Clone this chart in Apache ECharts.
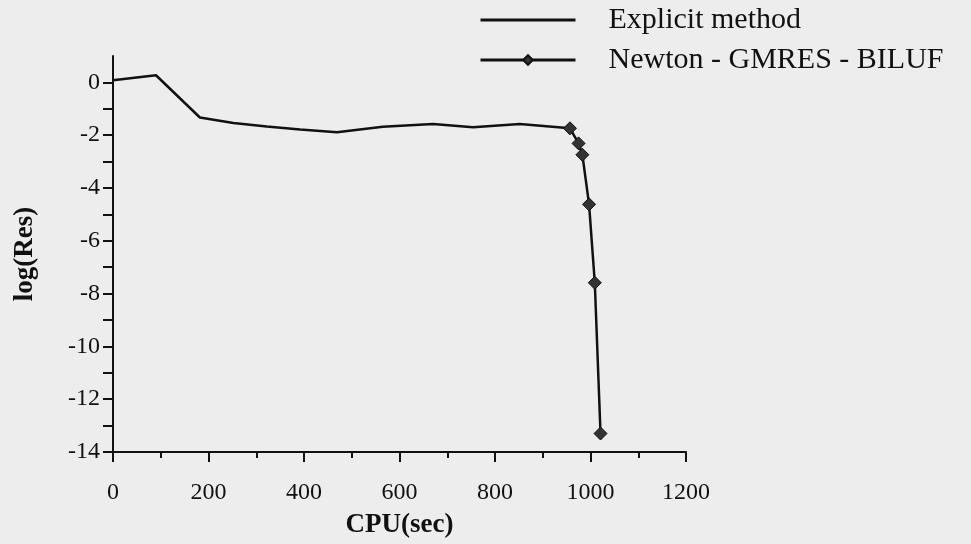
<!DOCTYPE html>
<html>
<head>
<meta charset="utf-8">
<script src="https://cdn.jsdelivr.net/npm/echarts@6/dist/echarts.min.js"></script>
<style>
  html, body { margin: 0; padding: 0; background: #ededed; }
  #chart { width: 971px; height: 544px; }
</style>
</head>
<body>
<div id="chart"></div>
<script>
var explicitX = [0, 90, 182, 252, 322, 392, 469, 565, 670, 754, 852, 957];
var explicitY = [0.08, 0.27, -1.33, -1.54, -1.67, -1.78, -1.89, -1.68, -1.58, -1.70, -1.58, -1.74];
var newtonX = [957, 975, 983, 997, 1009, 1021];
var newtonY = [-1.74, -2.31, -2.74, -4.62, -7.59, -13.3];
var yLabelTicks = [-14, -12, -10, -8, -6, -4, -2, 0];
var yTicks = [-14, -13, -12, -11, -10, -9, -8, -7, -6, -5, -4, -3, -2, -1, 0];

function zip(xs, ys) {
  return xs.map(function (x, i) { return [x, ys[i]] })
}

var font = '"Liberation Serif", "DejaVu Serif", serif'
var chart = echarts.init(document.getElementById('chart'))
chart.setOption({
  backgroundColor: '#ededed',
  animation: false,
  grid: {
    left: 113,
    top: 56,
    width: 573,
    height: 396,
    containLabel: false,
    outerBoundsMode: 'none'
  },
  legend: {
    orient: 'vertical',
    left: 474,
    top: 0,
    itemWidth: 95,
    itemHeight: 12,
    itemGap: 10,
    textStyle: {
      fontFamily: font,
      fontSize: 30,
      color: '#111',
      padding: [0, 0, 0, 28]
    },
    data: [
      { name: 'Explicit method', itemStyle: { opacity: 0 }, lineStyle: { width: 3 } },
      { name: 'Newton - GMRES - BILUF', lineStyle: { width: 3 } }
    ]
  },
  xAxis: {
    type: 'value',
    min: 0,
    max: 1200,
    interval: 200,
    name: 'CPU(sec)',
    nameLocation: 'middle',
    nameGap: 60,
    nameTextStyle: {
      fontFamily: font,
      fontWeight: 'bold',
      fontSize: 27,
      color: '#111',
      letterSpacing: 3
    },
    axisLine: { onZero: false, lineStyle: { color: '#111', width: 2 } },
    axisTick: { length: 10, lineStyle: { color: '#111', width: 2 } },
    minorTick: { show: true, splitNumber: 2, length: 6, lineStyle: { color: '#111', width: 2 } },
    axisLabel: {
      margin: 29,
      fontFamily: font,
      fontSize: 24,
      color: '#111',
      formatter: function (v) { return String(v) }
    },
    splitLine: { show: false }
  },
  yAxis: {
    type: 'value',
    min: -14,
    max: 1,
    name: 'log(Res)',
    nameLocation: 'middle',
    nameGap: 74,
    nameTextStyle: {
      fontFamily: font,
      fontWeight: 'bold',
      fontSize: 27,
      color: '#111',
      letterSpacing: 4
    },
    axisLine: { lineStyle: { color: '#111', width: 2 } },
    axisTick: {
      length: 10,
      customValues: yTicks,
      lineStyle: { color: '#111', width: 2 }
    },
    axisLabel: {
      customValues: yLabelTicks,
      margin: 13,
      fontFamily: font,
      fontSize: 24,
      color: '#111'
    },
    splitLine: { show: false }
  },
  series: [
    {
      name: 'Explicit method',
      type: 'line',
      symbol: 'none',
      lineStyle: { color: '#111', width: 2.5 },
      itemStyle: { color: '#111' },
      data: zip(explicitX, explicitY)
    },
    {
      name: 'Newton - GMRES - BILUF',
      type: 'line',
      symbol: 'diamond',
      symbolSize: 13,
      lineStyle: { color: '#111', width: 2.5 },
      itemStyle: { color: '#333', borderColor: '#111', borderWidth: 1 },
      data: zip(newtonX, newtonY)
    }
  ]
})
</script>
</body>
</html>
